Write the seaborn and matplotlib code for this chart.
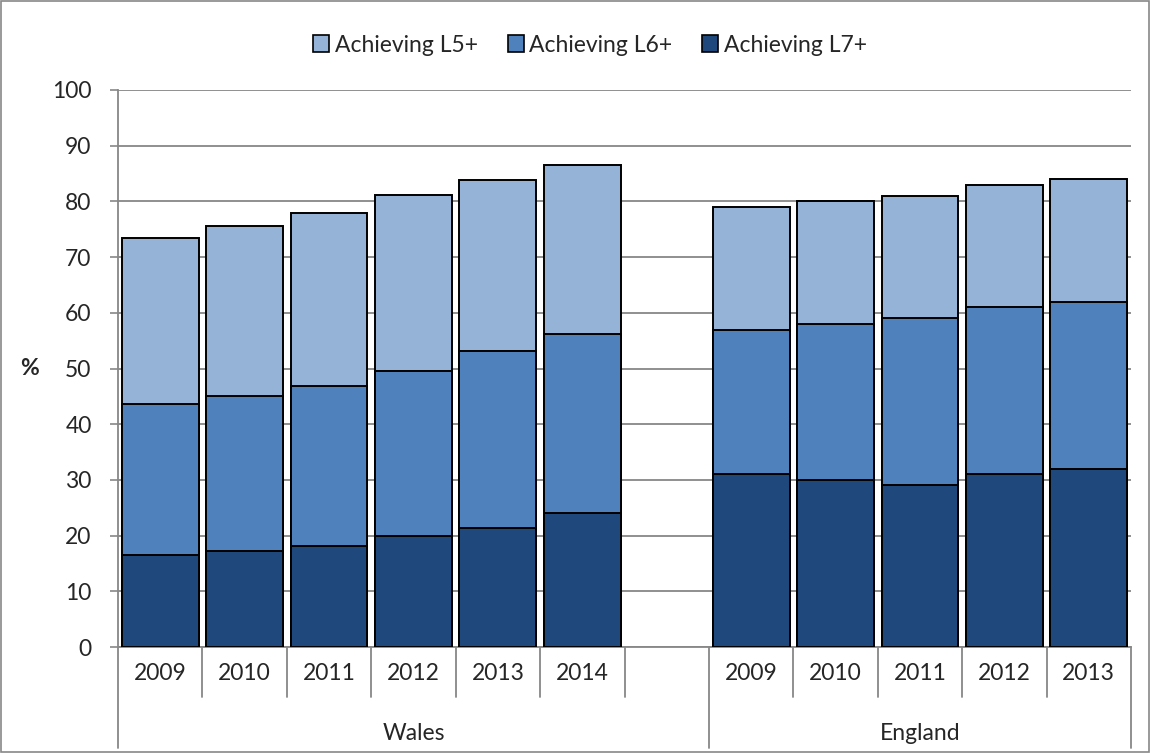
import matplotlib
matplotlib.use("Agg")
import matplotlib.pyplot as plt
import matplotlib.transforms as mtransforms
from matplotlib.patches import Rectangle, Patch
import seaborn as sns
import pandas as pd

# data
wales_years = ["2009", "2010", "2011", "2012", "2013", "2014"]
england_years = ["2009", "2010", "2011", "2012", "2013"]
wales_l5 = [73.5, 75.5, 77.9, 81.1, 83.9, 86.5]
wales_l6 = [43.7, 45.0, 46.8, 49.6, 53.1, 56.2]
wales_l7 = [16.6, 17.2, 18.1, 19.9, 21.3, 24.0]
england_l5 = [79, 80, 81, 83, 84]
england_l6 = [57, 58, 59, 61, 62]
england_l7 = [31, 30, 29, 31, 32]
series_names = ["Achieving L5+", "Achieving L6+", "Achieving L7+"]
colors = ["#95B3D7", "#4F81BD", "#1F497D"]

slots = [f"Wales {y}" for y in wales_years] + ["gap"] + [f"England {y}" for y in england_years]
df = pd.DataFrame({
    "slot": [f"Wales {y}" for y in wales_years] + [f"England {y}" for y in england_years],
    "l5": wales_l5 + england_l5,
    "l6": wales_l6 + england_l6,
    "l7": wales_l7 + england_l7,
})

sns.set_theme(style="white")
plt.rcParams["font.family"] = ["Lato", "DejaVu Sans"]
FS = 16.5

fig = plt.figure(figsize=(11.5, 7.53), dpi=100)
ax = fig.add_axes([118 / 1150, 1 - 647 / 753, (1131 - 118) / 1150, (647 - 90) / 753])

for col, c in zip(["l5", "l6", "l7"], colors):
    sns.barplot(data=df, x="slot", y=col, order=slots, color=c, width=0.91,
                edgecolor="black", linewidth=1.4, saturation=1, ax=ax, zorder=3)

ax.set_ylim(0, 100)
ax.set_xlim(-0.5, len(slots) - 0.5)
ax.set_yticks(range(0, 101, 10))
ax.yaxis.grid(True, color="#878787", linewidth=1.3, zorder=0)
ax.set_axisbelow(True)
ax.tick_params(axis="y", labelsize=FS, length=6, width=1.2, color="#878787", left=True, pad=13)
ax.set_xticks([])
ax.set_xlabel("")
ax.set_ylabel("%", rotation=0, fontsize=FS, fontweight="bold", labelpad=16, va="center")
for s in ["top", "right"]:
    ax.spines[s].set_visible(False)
for s in ["left", "bottom"]:
    ax.spines[s].set_color("#878787")
    ax.spines[s].set_linewidth(1.3)

# category axis: year labels and separators
trans = mtransforms.blended_transform_factory(ax.transData, ax.transAxes)
unit = 1 / 557
labels = wales_years + [""] + england_years
for i, lab in enumerate(labels):
    ax.text(i, -26 * unit, lab, transform=trans, ha="center", va="center", fontsize=FS)
for i in range(len(slots) + 1):
    x = i - 0.5
    long = x in (-0.5, 6.5, 11.5)
    y1 = -(101 if long else 50) * unit
    ax.plot([x, x], [0, y1], transform=trans, color="#878787", lw=1.3, clip_on=False)
ax.text(3, -86 * unit, "Wales", transform=trans, ha="center", va="center", fontsize=FS)
ax.text(9, -86 * unit, "England", transform=trans, ha="center", va="center", fontsize=FS)

handles = [Patch(facecolor=c, edgecolor="black", linewidth=1.2) for c in colors]
fig.legend(handles, series_names, loc="center", bbox_to_anchor=(590 / 1150, 1 - 45 / 753),
           ncol=3, frameon=False, fontsize=FS, handlelength=0.7, handleheight=0.7,
           handletextpad=0.25, columnspacing=1.3)

fig.patches.append(Rectangle((1 / 1150, 1 / 753), 1 - 2 / 1150, 1 - 2 / 753,
                             transform=fig.transFigure, fill=False, edgecolor="#878787", lw=1.2))

fig.savefig("out.png", dpi=100)
